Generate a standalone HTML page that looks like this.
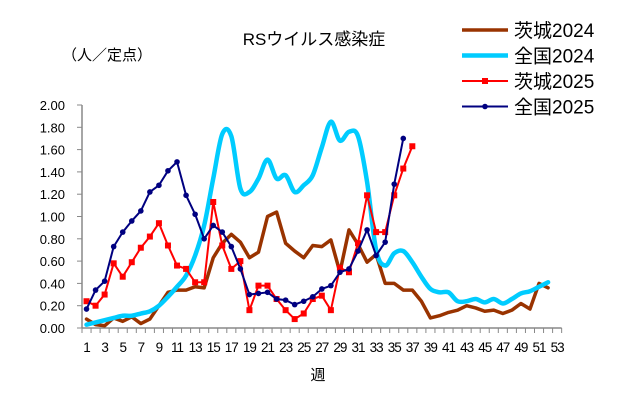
<!DOCTYPE html>
<html><head><meta charset="utf-8"><style>
body{margin:0;background:#fff;}
svg{font-family:"Liberation Sans","Noto Sans CJK JP",sans-serif;}
</style></head><body>
<svg id="chart" width="629" height="404" xmlns="http://www.w3.org/2000/svg">
<rect width="629" height="404" fill="#fff"/>
<text x="314" y="45" font-size="17" text-anchor="middle">RSウイルス感染症</text>
<text x="62" y="60" font-size="15">（人／定点）</text>
<text x="318" y="380" font-size="15" text-anchor="middle">週</text>
<g id="axes"></g><g id="series"></g><g id="legend"></g>
</svg>
<script>
const weeks = Array.from({length:53},(_,i)=>i+1);
const yTicks = [0,0.2,0.4,0.6,0.8,1.0,1.2,1.4,1.6,1.8,2.0];
const ibaraki2024 = [0.08,0.03,0.02,0.09,0.06,0.10,0.04,0.08,0.20,0.32,0.34,0.34,0.37,0.36,0.63,0.76,0.84,0.77,0.63,0.68,1.00,1.04,0.76,0.69,0.63,0.74,0.73,0.79,0.50,0.88,0.75,0.59,0.66,0.40,0.40,0.34,0.34,0.24,0.09,0.11,0.14,0.16,0.20,0.18,0.15,0.16,0.13,0.16,0.22,0.17,0.40,0.36];
const national2024 = [0.03,0.05,0.07,0.09,0.11,0.11,0.13,0.15,0.20,0.28,0.37,0.47,0.65,0.92,1.34,1.74,1.72,1.25,1.22,1.34,1.51,1.34,1.37,1.22,1.28,1.37,1.62,1.85,1.68,1.76,1.72,1.31,0.70,0.56,0.67,0.69,0.59,0.46,0.35,0.32,0.32,0.24,0.24,0.26,0.23,0.26,0.22,0.26,0.31,0.33,0.37,0.41];
const ibaraki2025 = [0.24,0.20,0.30,0.58,0.46,0.59,0.72,0.82,0.94,0.74,0.56,0.53,0.41,0.41,1.13,0.74,0.53,0.60,0.16,0.38,0.38,0.26,0.16,0.08,0.13,0.26,0.29,0.16,0.54,0.50,0.76,1.19,0.86,0.86,1.19,1.43,1.63];
const national2025 = [0.17,0.34,0.42,0.73,0.86,0.96,1.05,1.22,1.28,1.41,1.49,1.19,1.02,0.80,0.92,0.86,0.73,0.53,0.30,0.31,0.32,0.26,0.25,0.21,0.24,0.28,0.35,0.38,0.50,0.53,0.69,0.88,0.65,0.77,1.29,1.70];
const NS="http://www.w3.org/2000/svg";
const X0=82, DX=9.05, Y0=328, YS=111.5;
const xs=w=>X0+(w-0.5)*DX, ys=v=>Y0-v*YS;
function mk(tag,attrs,parent){const e=document.createElementNS(NS,tag);for(const k in attrs)e.setAttribute(k,attrs[k]);parent.appendChild(e);return e;}
const axes=document.getElementById('axes');
let ya=mk('line',{x1:X0,y1:ys(2),x2:X0,y2:Y0,stroke:'#888','stroke-width':1.5},axes);


let xa=mk('line',{x1:X0,y1:Y0,x2:X0+53*DX,y2:Y0,stroke:'#888','stroke-width':1.5},axes);


yTicks.forEach(v=>{
 mk('line',{x1:X0-5,y1:ys(v),x2:X0,y2:ys(v),stroke:'#888'},axes);
 const t=mk('text',{x:X0-17,y:ys(v)+5,'font-size':13,'text-anchor':'end'},axes);
 
 
 t.textContent=v.toFixed(2);
});
for(let i=0;i<=53;i++) mk('line',{x1:X0+i*DX,y1:Y0,x2:X0+i*DX,y2:Y0+5,stroke:'#888'},axes);
weeks.forEach(w=>{ if(w%2===1){
 const t=mk('text',{x:xs(w),y:352,'font-size':13.5,'text-anchor':'middle','letter-spacing':'-1'},axes);
 
 
 t.textContent=w;
}});
const ser=document.getElementById('series');
function smoothPath(p){
 let d='M'+p[0][0]+','+p[0][1];
 for(let i=0;i<p.length-1;i++){
  const p0=p[Math.max(0,i-1)],p1=p[i],p2=p[i+1],p3=p[Math.min(p.length-1,i+2)];
  const c1x=p1[0]+(p2[0]-p0[0])/6,c1y=p1[1]+(p2[1]-p0[1])/6;
  const c2x=p2[0]-(p3[0]-p1[0])/6,c2y=p2[1]-(p3[1]-p1[1])/6;
  d+=' C'+c1x+','+c1y+' '+c2x+','+c2y+' '+p2[0]+','+p2[1];
 }
 return d;
}
function line(data,color,width,name,marker,smooth){
 let p;
 if(smooth){
  p=mk('path',{d:smoothPath(data.map((v,i)=>[xs(i+1),ys(v)])),fill:'none',stroke:color,'stroke-width':width,'stroke-linecap':'round'},ser);
 } else {
  const pts=data.map((v,i)=>xs(i+1)+','+ys(v)).join(' ');
  p=mk('polyline',{points:pts,fill:'none',stroke:color,'stroke-width':width,'stroke-linejoin':'round','stroke-linecap':'round'},ser);
 }
 
 
 data.forEach((v,i)=>{
  if(marker==='sq'){const m=mk('rect',{x:xs(i+1)-3,y:ys(v)-3,width:6,height:6,fill:color},ser);
   
   }
  else if(marker==='c'){const m=mk('circle',{cx:xs(i+1),cy:ys(v),r:2.8,fill:color},ser);
   
   }
 });
}
line(ibaraki2024,'#993300',3.5,'ibaraki-2024-line');
line(national2024,'#00ccff',4.5,'national-2024-line',null,true);
line(ibaraki2025,'#ff0000',2,'ibaraki-2025-line','sq');
line(national2025,'#000080',2,'national-2025-line','c');
const lg=document.getElementById('legend');
const items=[['茨城2024','#993300',3.5,null],['全国2024','#00ccff',4.5,null],['茨城2025','#ff0000',2,'sq'],['全国2025','#000080',2,'c']];
items.forEach((it,i)=>{
 const y=30+i*25.5;
 const g=mk('g',{},lg);
 
 
 mk('line',{x1:462,y1:y,x2:508,y2:y,stroke:it[1],'stroke-width':it[2]},g);
 if(it[3]==='sq') mk('rect',{x:482,y:y-3,width:6,height:6,fill:it[1]},g);
 if(it[3]==='c') mk('circle',{cx:485,cy:y,r:2.8,fill:it[1]},g);
 const t=mk('text',{x:514,y:y+7,'font-size':19},g);
 t.textContent=it[0];
});
</script>
</body></html>
